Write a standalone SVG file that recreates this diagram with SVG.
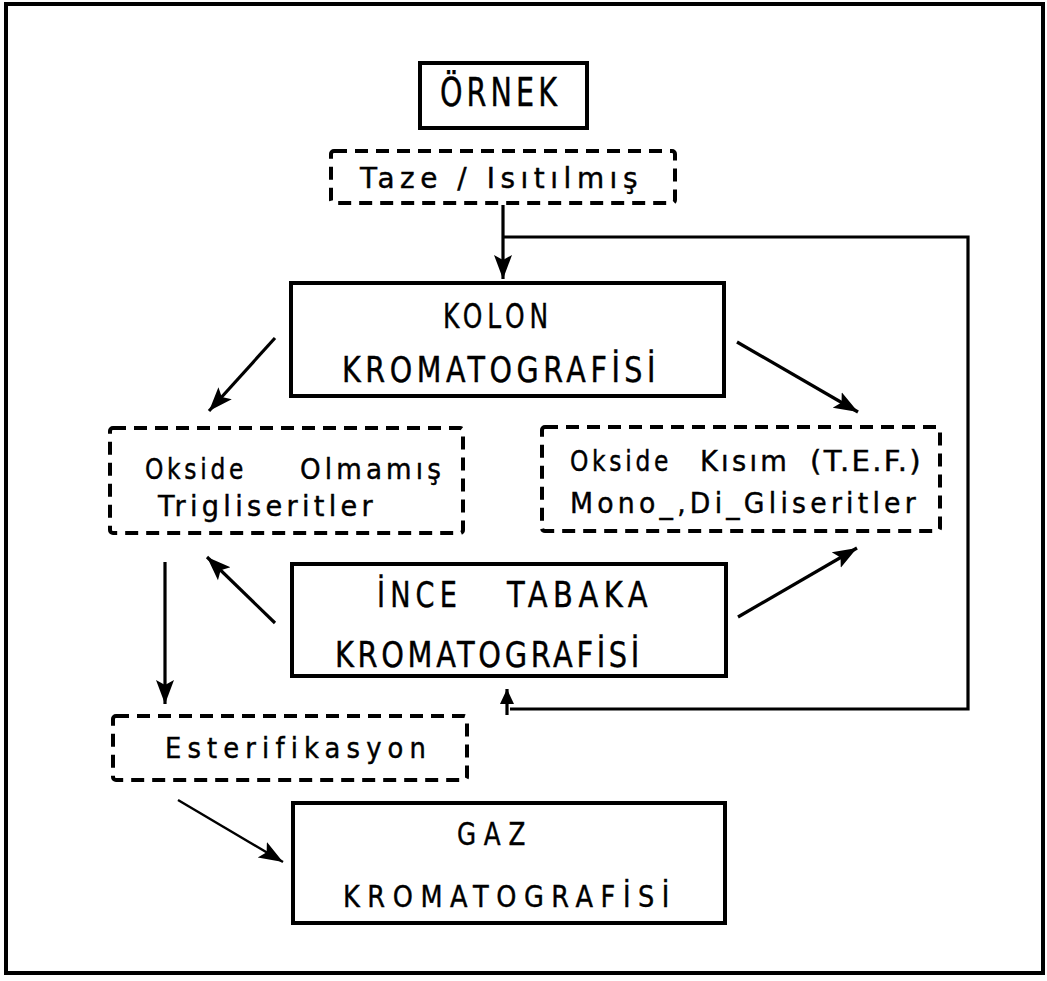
<svg xmlns="http://www.w3.org/2000/svg" width="1047" height="981" viewBox="0 0 1047 981">
<style>
  .solid { fill: none; stroke: #000; stroke-width: 4; }
  .dash { fill: none; stroke: #000; stroke-width: 4; stroke-dasharray: 13 8; }
  .t { font-family: "DejaVu Sans Condensed", "DejaVu Sans", "Liberation Sans", sans-serif; font-stretch: condensed; fill: #000; stroke: #000; stroke-width: 0.4; }
  .ln { fill: none; stroke: #000; stroke-width: 3.2; }
  .thin { fill: none; stroke: #000; stroke-width: 2.4; }
</style>
<defs>
  <marker id="ah" markerUnits="userSpaceOnUse" markerWidth="26" markerHeight="20" viewBox="0 0 26 20" refX="24" refY="10" orient="auto">
    <path d="M0,1 L24,10 L0,19 L5,10 Z" fill="#000"/>
  </marker>
  <marker id="ahs" markerUnits="userSpaceOnUse" markerWidth="16" markerHeight="14" viewBox="0 0 16 14" refX="15" refY="7" orient="auto">
    <path d="M0,0 L15,7 L0,14 Z" fill="#000"/>
  </marker>
</defs>
<rect x="0" y="0" width="1047" height="981" fill="#fff"/>
<rect x="6" y="4" width="1037" height="969" fill="none" stroke="#000" stroke-width="4"/>

<g id="ornek">
  <rect class="solid" x="420" y="63" width="167" height="65"/>
  <text class="t" x="440" y="106" font-size="39" textLength="121" lengthAdjust="spacingAndGlyphs" letter-spacing="5">ÖRNEK</text>
</g>
<g id="taze">
  <rect class="dash" x="331" y="151" width="344" height="52" rx="3"/>
  <text class="t" x="360" y="188" font-size="28" textLength="283" lengthAdjust="spacingAndGlyphs" letter-spacing="5">Taze / Isıtılmış</text>
</g>
<g id="kolon">
  <rect class="solid" x="291" y="283" width="433" height="113"/>
  <text class="t" x="443" y="328" font-size="34" textLength="110" lengthAdjust="spacingAndGlyphs" letter-spacing="6">KOLON</text>
  <text class="t" x="342" y="382" font-size="35" textLength="318" lengthAdjust="spacingAndGlyphs" letter-spacing="5">KROMATOGRAFİSİ</text>
</g>
<g id="oksideolmamis">
  <rect class="dash" x="110" y="428" width="353" height="105" rx="3"/>
  <text class="t" x="145" y="479" font-size="28" textLength="102" lengthAdjust="spacingAndGlyphs" letter-spacing="4">Okside</text>
  <text class="t" x="300" y="479" font-size="28" textLength="145" lengthAdjust="spacingAndGlyphs" letter-spacing="4">Olmamış</text>
  <text class="t" x="158" y="516" font-size="28" textLength="219" lengthAdjust="spacingAndGlyphs" letter-spacing="4">Trigliseritler</text>
</g>
<g id="oksidekisim">
  <rect class="dash" x="542" y="427" width="398" height="104" rx="3"/>
  <text class="t" x="570" y="471" font-size="28" textLength="102" lengthAdjust="spacingAndGlyphs" letter-spacing="4">Okside</text>
  <text class="t" x="700" y="471" font-size="28" textLength="90" lengthAdjust="spacingAndGlyphs" letter-spacing="3">Kısım</text>
  <text class="t" x="810" y="471" font-size="28" textLength="113" lengthAdjust="spacingAndGlyphs" letter-spacing="2">(T.E.F.)</text>
  <text class="t" x="570" y="513" font-size="28" textLength="350" lengthAdjust="spacingAndGlyphs" letter-spacing="4">Mono_,Di_Gliseritler</text>
</g>
<g id="ince">
  <rect class="solid" x="292" y="564" width="434" height="112"/>
  <text class="t" x="377" y="607" font-size="35" textLength="85" lengthAdjust="spacingAndGlyphs" letter-spacing="6">İNCE</text>
  <text class="t" x="507" y="607" font-size="35" textLength="146" lengthAdjust="spacingAndGlyphs" letter-spacing="6">TABAKA</text>
  <text class="t" x="335" y="667" font-size="35" textLength="308" lengthAdjust="spacingAndGlyphs" letter-spacing="4">KROMATOGRAFİSİ</text>
</g>
<g id="ester">
  <rect class="dash" x="113" y="716" width="354" height="64" rx="3"/>
  <text class="t" x="165" y="758" font-size="28" textLength="267" lengthAdjust="spacingAndGlyphs" letter-spacing="6">Esterifikasyon</text>
</g>
<g id="gaz">
  <rect class="solid" x="293" y="803" width="432" height="120"/>
  <text class="t" x="457" y="845" font-size="32" textLength="76" lengthAdjust="spacingAndGlyphs" letter-spacing="9">GAZ</text>
  <text class="t" x="343" y="907" font-size="30" textLength="334" lengthAdjust="spacingAndGlyphs" letter-spacing="8">KROMATOGRAFİSİ</text>
</g>

<g id="connectors">
  <line class="ln" x1="503" y1="205" x2="503" y2="279" marker-end="url(#ah)"/>
  <path class="ln" d="M503,237 H968 V709 H510"/>
  <line class="ln" x1="507" y1="715" x2="507" y2="689" marker-end="url(#ahs)"/>
  <line class="ln" x1="275" y1="338" x2="209" y2="411" marker-end="url(#ah)"/>
  <line class="ln" x1="737" y1="342" x2="858" y2="412" marker-end="url(#ah)"/>
  <line class="ln" x1="275" y1="623" x2="207" y2="557" marker-end="url(#ah)"/>
  <line class="ln" x1="738" y1="617" x2="857" y2="548" marker-end="url(#ah)"/>
  <line class="ln" x1="165" y1="562" x2="165" y2="704" marker-end="url(#ah)"/>
  <line class="thin" x1="178" y1="800" x2="283" y2="862" marker-end="url(#ah)"/>
</g>
</svg>
